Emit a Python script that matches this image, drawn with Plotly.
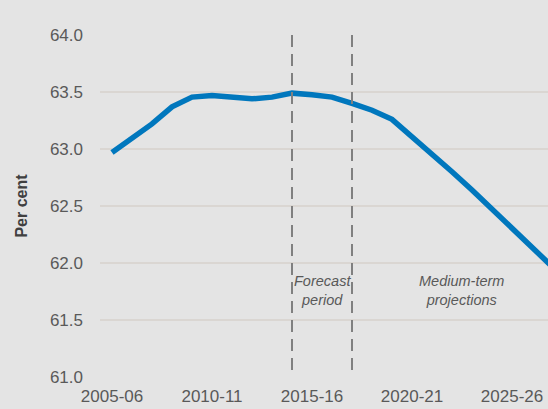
import plotly.graph_objects as go

years = ["2005-06", "2006-07", "2007-08", "2008-09", "2009-10", "2010-11", "2011-12",
         "2012-13", "2013-14", "2014-15", "2015-16", "2016-17", "2017-18", "2018-19",
         "2019-20", "2020-21", "2021-22", "2022-23", "2023-24", "2024-25", "2025-26",
         "2026-27", "2027-28"]
participation = [62.97, 63.10, 63.22, 63.37, 63.455, 63.47, 63.45, 63.44, 63.455, 63.49,
                 63.475, 63.455, 63.40, 63.34, 63.26, 63.11, 62.96, 62.80, 62.64, 62.47,
                 62.31, 62.14, 61.97]
tick_labels = ["2005-06", "2010-11", "2015-16", "2020-21", "2025-26"]
forecast_start = "2014-15"
projection_start = "2017-18"

xi = list(range(len(years)))
tickvals = [years.index(t) for t in tick_labels]

fig = go.Figure()
fig.add_trace(go.Scatter(x=xi, y=participation, mode="lines",
                         line=dict(color="#0077BD", width=5.5), hoverinfo="skip"))

for v in (forecast_start, projection_start):
    fig.add_shape(type="line", xref="x", yref="y", x0=years.index(v), x1=years.index(v),
                  y0=64.0, y1=61.0, line=dict(color="#808080", width=2, dash="12px,7px"))

fs = years.index(forecast_start)
ps = years.index(projection_start)
ann_font = dict(family="Liberation Sans, Arial, sans-serif", size=14.5, color="#595959", style="italic")
fig.add_annotation(x=(fs + ps) / 2, y=61.76, text="Forecast<br>period", showarrow=False,
                   font=ann_font, xref="x", yref="y")
fig.add_annotation(x=17.45, y=61.76, text="Medium-term<br>projections", showarrow=False,
                   font=ann_font, xref="x", yref="y")

fig.update_layout(
    width=548, height=409,
    margin=dict(l=100, r=0, t=35, b=32),
    paper_bgcolor="#e4e4e4", plot_bgcolor="#e4e4e4",
    showlegend=False,
    font=dict(family="Liberation Sans, Arial, sans-serif", color="#595959"),
    xaxis=dict(range=[-0.6, 21.8], tickvals=tickvals, ticktext=tick_labels,
               showgrid=False, zeroline=False, showline=False, ticks="",
               tickfont=dict(size=17, color="#595959"), ticklabelstandoff=7),
    yaxis=dict(range=[61.0, 64.0], dtick=0.5, tickformat=".1f",
               showgrid=True, gridcolor="#dad6d2", gridwidth=1.5,
               zeroline=False, showline=False, ticks="",
               tickfont=dict(size=17, color="#595959"), ticklabelstandoff=16,
               title=dict(text="<b>Per cent</b>", font=dict(size=16, color="#404040"),
                          standoff=18)),
)

fig.write_html("out.html", config={"displayModeBar": False},
               post_script="document.body.style.margin='0';document.body.style.background='#e4e4e4';")
